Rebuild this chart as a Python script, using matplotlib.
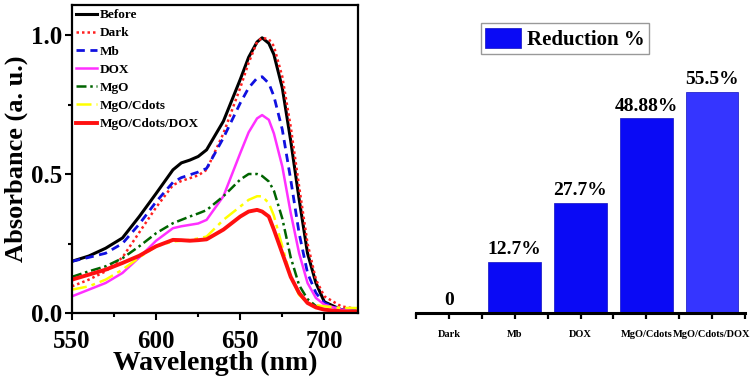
import matplotlib
matplotlib.use("Agg")
import matplotlib.pyplot as plt
from matplotlib.ticker import MultipleLocator
import numpy as np

plt.rcParams['font.family'] = ['Liberation Serif', 'DejaVu Serif']
plt.rcParams['font.weight'] = 'bold'

wl = [550, 560, 570, 580, 590, 600, 610, 615, 620, 625, 630, 640, 650, 655, 660, 663, 667,
      670, 675, 680, 685, 690, 695, 700, 710, 720]
before = [0.186, 0.205, 0.233, 0.27, 0.347, 0.43, 0.515, 0.54, 0.55, 0.563, 0.587, 0.69, 0.84,
          0.92, 0.975, 0.99, 0.97, 0.93, 0.81, 0.62, 0.41, 0.215, 0.108, 0.04, 0.012, 0.006]
dark = [0.096, 0.12, 0.15, 0.2, 0.29, 0.38, 0.46, 0.475, 0.485, 0.495, 0.515, 0.646, 0.81,
        0.9, 0.975, 0.99, 0.985, 0.96, 0.85, 0.67, 0.455, 0.25, 0.12, 0.06, 0.024, 0.014]
mb = [0.186, 0.2, 0.215, 0.25, 0.32, 0.40, 0.47, 0.487, 0.497, 0.507, 0.52, 0.63, 0.755,
      0.81, 0.845, 0.85, 0.826, 0.78, 0.66, 0.48, 0.287, 0.144, 0.072, 0.036, 0.012, 0.006]
dox = [0.06, 0.084, 0.108, 0.144, 0.2, 0.26, 0.305, 0.312, 0.317, 0.322, 0.335, 0.42, 0.575,
       0.65, 0.70, 0.712, 0.695, 0.646, 0.527, 0.36, 0.215, 0.108, 0.054, 0.03, 0.012, 0.006]
mgo = [0.13, 0.15, 0.168, 0.197, 0.24, 0.287, 0.323, 0.335, 0.347, 0.358, 0.37, 0.42, 0.48,
       0.50, 0.50, 0.493, 0.473, 0.44, 0.34, 0.2, 0.1, 0.05, 0.025, 0.012, 0.006, 0.006]
mgo_cdots = [0.084, 0.096, 0.12, 0.156, 0.2, 0.24, 0.257, 0.26, 0.263, 0.268, 0.275, 0.335,
             0.383, 0.407, 0.42, 0.42, 0.395, 0.35, 0.24, 0.13, 0.065, 0.036, 0.028, 0.024, 0.018, 0.018]
mgo_cdots_dox = [0.12, 0.138, 0.156, 0.18, 0.206, 0.24, 0.263, 0.262, 0.26, 0.262, 0.265, 0.3,
                 0.347, 0.365, 0.371, 0.365, 0.347, 0.3, 0.215, 0.13, 0.072, 0.036, 0.02, 0.012, 0.006, 0.004]

series_labels = ['Before', 'Dark', 'Mb', 'DOX', 'MgO', 'MgO/Cdots', 'MgO/Cdots/DOX']

categories = ['Dark', 'Mb', 'DOX', 'MgO/Cdots', 'MgO/Cdots/DOX']
reduction = [0, 12.7, 27.7, 48.88, 55.5]
bar_texts = ['0', '12.7%', '27.7%', '48.88%', '55.5%']

fig = plt.figure(figsize=(7.54, 3.87), dpi=100)
W, H = 754, 387

ax = fig.add_axes([72 / W, (H - 313) / H, 286 / W, 308 / H])
styles = [
    dict(color='black', lw=2.2, ls='-'),
    dict(color='#ff2020', lw=1.8, ls=(0, (1, 1.2))),
    dict(color='#1010e0', lw=2.0, ls=(0, (3, 2))),
    dict(color='#ff30ff', lw=1.8, ls='-'),
    dict(color='#006400', lw=1.8, ls=(0, (4, 1.5, 1, 1.5))),
    dict(color='#ffff00', lw=1.8, ls=(0, (6, 2, 1.5, 2))),
    dict(color='#ff1010', lw=2.8, ls='-'),
]
data = [before, dark, mb, dox, mgo, mgo_cdots, mgo_cdots_dox]
for lab, y, st in zip(series_labels, data, styles):
    ax.plot(wl, y, label=lab, **st)

ax.set_xlim(550, 720)
ax.set_ylim(0, 1.108)
ax.xaxis.set_major_locator(MultipleLocator(50))
ax.xaxis.set_minor_locator(MultipleLocator(25))
ax.yaxis.set_major_locator(MultipleLocator(0.5))
ax.yaxis.set_minor_locator(MultipleLocator(0.25))
ax.tick_params(which='both', direction='out', width=1.5)
ax.tick_params(which='major', length=5, labelsize=18)
ax.tick_params(axis='x', which='major', pad=7)
ax.tick_params(axis='y', which='major', pad=2)
ax.tick_params(which='minor', length=3)
for s in ax.spines.values():
    s.set_linewidth(1.6)
for t in ax.get_xticklabels() + ax.get_yticklabels():
    t.set_fontweight('bold')
ax.set_xlabel('Wavelength (nm)', fontsize=20, fontweight='bold', labelpad=-1)
ax.set_ylabel('Absorbance (a. u.)', fontsize=19, fontweight='bold', labelpad=2)
leg = ax.legend(loc='upper left', frameon=False, handlelength=1.6,
                handletextpad=0.2, borderaxespad=0.2, labelspacing=0.45,
                borderpad=0.1, prop={'weight': 'bold', 'size': 9.5})

ax2 = fig.add_axes([416 / W, (H - 313) / H, 329 / W, 308 / H])
x = np.arange(len(categories))
colors = ['#0a0af5'] * 4 + ['#3535ff']
bars = ax2.bar(x, reduction, width=0.8, color=colors, edgecolor='#1010c0', linewidth=0.5,
               label='Reduction %')
for xi, v, t in zip(x, reduction, bar_texts):
    ax2.text(xi, v + 1.0, t, ha='center', va='bottom', fontsize=14, fontweight='bold')
ax2.set_xlim(-0.5, 4.5)
ax2.set_ylim(0, 77.4)
for side in ['left', 'right', 'top']:
    ax2.spines[side].set_visible(False)
ax2.spines['bottom'].set_linewidth(2.2)
ax2.set_yticks([])
ax2.set_xticks(x)
ax2.set_xticklabels(categories, fontsize=7.5, fontweight='bold')
ax2.set_xticks(np.arange(-0.5, 4.6, 1.0), minor=True)
ax2.tick_params(axis='x', which='both', direction='out', length=4, width=1.6, pad=8)
fig.legend(handles=[bars[0]], labels=['Reduction %'], loc='upper center',
           bbox_to_anchor=(565 / W, 1 - 13 / H), prop={'weight': 'bold', 'size': 15},
           fancybox=False, edgecolor='#999999', handlelength=1.7, handleheight=1.1,
           handletextpad=0.3, borderpad=0.2, framealpha=1)

fig.savefig('out.png', dpi=100)
